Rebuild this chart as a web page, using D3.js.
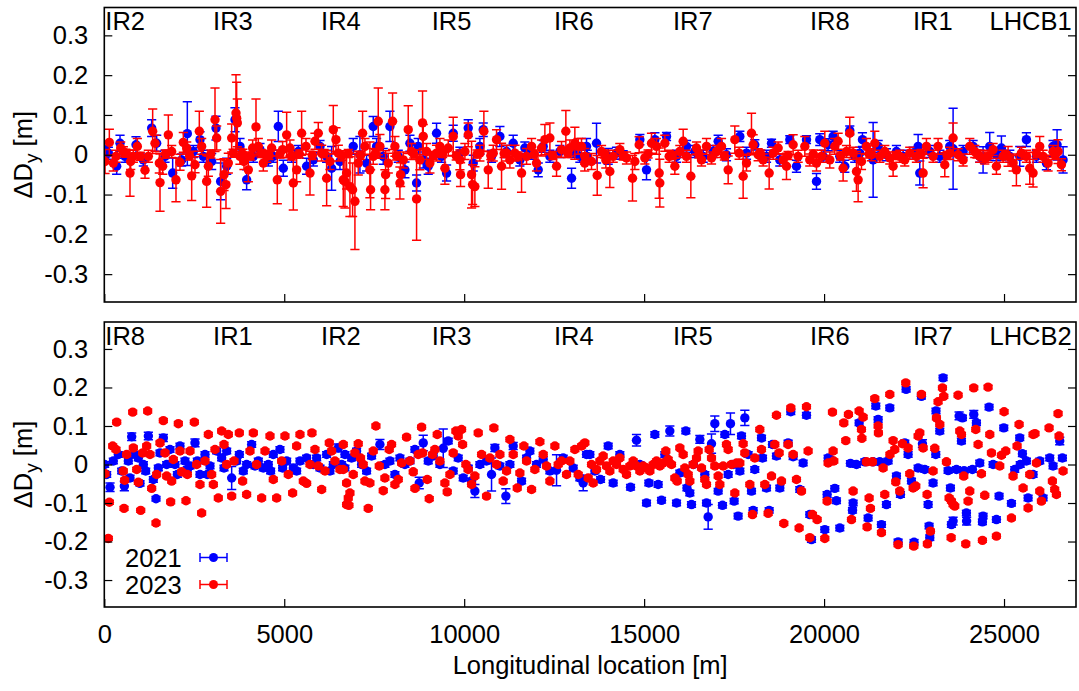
<!DOCTYPE html>
<html>
<head>
<meta charset="utf-8">
<script src="https://cdn.jsdelivr.net/npm/d3@7"></script>
<style>
  body { margin: 0; background: #fff; }
  text { font-family: "Liberation Sans", Arial, Helvetica, sans-serif; fill: #000; }
</style>
</head>
<body>
<svg id="chart" width="1079" height="691"></svg>
<script>
// Tick values and labels
const xTicks = [0, 5000, 10000, 15000, 20000, 25000];
const yTicks = [-0.3, -0.2, -0.1, 0, 0.1, 0.2, 0.3];
const years = ['2021', '2023'];
const colors = ['#0000ff', '#ff0000'];

// IR labels along the top of each panel (location in m)
const labelLoc = [0, 3575, 6575, 9650, 13047, 16353, 20158, 23019, 26880];
const beam1Labels = ['IR2', 'IR3', 'IR4', 'IR5', 'IR6', 'IR7', 'IR8', 'IR1', 'LHCB1'];
const beam2Labels = ['IR8', 'IR1', 'IR2', 'IR3', 'IR4', 'IR5', 'IR6', 'IR7', 'LHCB2'];

// [location m, delta Dy m, error m]
const b1_2021 = [
[10,0.013,0.02],[113,0.004,0.015],[344,-0.029,0.02],[437,0.029,0.02],[576,-0.004,0.015],[881,0.025,0.02],[1085,-0.013,0.015],[1316,0.067,0.021],[1455,0.029,0.02],[1687,-0.004,0.015],[1900,-0.046,0.038],[2150,-0.013,0.015],[2307,0.053,0.08],[2474,0.008,0.015],[2659,0.038,0.02],[2752,-0.004,0.015],[2983,-0.017,0.02],[3104,0.067,0.03],[3233,-0.067,0.046],[3400,-0.029,0.02],[3631,0.088,0.03],[3770,0.021,0.02],[3955,-0.063,0.025],[4141,-0.004,0.015],[4326,0.013,0.015],[4557,-0.013,0.015],[4696,-0.004,0.015],[4835,0.071,0.038],[4974,-0.034,0.02],[5206,-0.004,0.015],[5391,0.008,0.015],[5622,-0.029,0.02],[5808,-0.013,0.015],[5993,0.021,0.015],[6178,-0.004,0.015],[6317,-0.034,0.055],[6548,-0.017,0.02],
[6917,0.021,0.02],[7103,0,0.046],[7288,-0.021,0.02],[7473,0.071,0.025],[7566,0.021,0.02],[7751,-0.004,0.02],[7936,0.071,0.038],[8168,-0.004,0.015],[8353,-0.038,0.02],[8492,0.029,0.02],[8677,-0.071,0.02],[8723,0.021,0.02],[8862,-0.013,0.02],[9001,-0.029,0.02],[9232,0.054,0.025],[9371,-0.004,0.015],[9510,-0.046,0.02],[9695,0.054,0.02],[9881,0.004,0.015],[10112,0.067,0.021],[10251,-0.021,0.02],[10436,0.021,0.02],[10529,0.063,0.017],[10760,-0.004,0.015],[10992,0.046,0.025],[11177,0.008,0.015],[11362,0.029,0.02],[11547,-0.013,0.015],[11686,0.017,0.015],[11872,0.004,0.015],[12057,-0.038,0.017],[12196,0.021,0.015],[12381,-0.004,0.015],[12659,0.008,0.015],[12983,-0.059,0.025],[13029,0.008,0.015],[13214,-0.004,0.015],[13399,0.021,0.02],
[13420,-0.004,0.015],[13677,0.029,0.05],[14001,-0.004,0.02],[14233,0.004,0.015],[14418,0,0.01],[14881,0.038,0.013],[15066,-0.038,0.025],[15298,0.038,0.017],[15622,0.046,0.01],[15900,-0.004,0.015],[16177,0.021,0.015],[16409,0.008,0.015],[16640,-0.004,0.015],[16918,0.008,0.015],[17057,0.034,0.015],[17288,0,0.015],[17659,0.046,0.013],[17844,0.004,0.015],[18075,0.025,0.013],[18400,-0.004,0.015],[18539,0.029,0.01],[18770,-0.013,0.015],[19048,0.038,0.01],[19233,-0.029,0.015],[19511,0.038,0.01],[19789,-0.067,0.02],[19881,0.038,0.015],
[19974,-0.004,0.015],[20113,0.025,0.015],[20251,0.046,0.013],[20437,-0.004,0.015],[20576,-0.029,0.015],[20714,0.061,0.011],[20853,-0.004,0.015],[20992,0.004,0.015],[21066,0.038,0.017],[21363,-0.013,0.094],[21502,0.021,0.015],[21733,0,0.015],[22011,0.008,0.015],[22196,-0.004,0.015],[22474,0.004,0.015],[22613,0.021,0.03],[22659,-0.046,0.03],[22937,0.008,0.015],[23215,-0.004,0.015],[23492,0.021,0.015],[23585,0.015,0.102],[23863,0.008,0.015],[24141,0.021,0.015],[24326,-0.004,0.015],[24418,-0.013,0.033],[24603,0.021,0.035],[24789,0,0.015],[24928,0.017,0.03],[25159,-0.004,0.015],[25437,-0.004,0.025],[25622,0.038,0.017],[25900,-0.004,0.015],[26178,-0.021,0.017],[26363,0.021,0.015],[26474,0.025,0.038],[26641,-0.013,0.033]
];

const b1_2023 = [
[20,-0.017,0.03],[140,0.031,0.033],[251,-0.021,0.02],[325,-0.004,0.015],[455,0.017,0.015],[529,0.008,0.012],[600,0.004,0.01],[714,-0.046,0.058],[733,-0.017,0.02],[807,-0.004,0.015],[918,0.021,0.02],[1000,-0.004,0.01],[1131,-0.039,0.02],[1224,-0.004,0.015],[1344,0.059,0.056],[1409,0.029,0.02],[1529,-0.021,0.025],[1548,-0.07,0.072],[1622,-0.029,0.02],[1700,0.002,0.01],[1779,0.05,0.05],[1872,0.008,0.015],[1992,-0.063,0.055],[2103,-0.019,0.02],[2196,0.031,0.025],[2289,0.017,0.015],[2370,-0.003,0.01],[2428,-0.053,0.062],[2520,-0.025,0.02],[2640,0.059,0.05],[2705,0.021,0.02],[2844,-0.067,0.065],[2891,-0.029,0.025],[2960,0.002,0.01],[3076,0.088,0.08],[3122,0.042,0.03],[3233,-0.092,0.08],[3326,-0.05,0.04],[3381,-0.075,0.06],[3446,-0.021,0.025],[3539,0.042,0.035],[3580,0.004,0.01],[3659,0.105,0.096],[3678,0.092,0.09],[3696,0.08,0.06],[3770,-0.004,0.02],[3850,0.002,0.012],[3881,-0.017,0.02],[4002,-0.038,0.03],[4060,-0.003,0.01],[4122,0.017,0.02],[4215,0.07,0.07],[4280,0.021,0.02],[4360,0.003,0.01],[4418,-0.021,0.02],[4511,-0.004,0.015],[4580,-0.002,0.01],[4650,0.017,0.02],[4807,-0.063,0.06],[4880,0.002,0.01],[4955,0.013,0.02],[5067,0.05,0.057],[5159,0.017,0.02],[5200,-0.003,0.01],[5252,-0.071,0.068],[5344,-0.038,0.03],[5420,0.002,0.01],[5483,0.054,0.055],[5604,0.021,0.02],[5715,-0.046,0.055],[5780,-0.002,0.01],[5854,0.034,0.02],[5946,0.054,0.027],[6039,0.004,0.02],[6110,0.003,0.01],[6178,-0.059,0.069],[6270,-0.017,0.02],[6363,0.063,0.061],[6437,0.038,0.03],[6502,0.004,0.02],[6600,-0.002,0.012],[6687,-0.067,0.067],
[6640,-0.063,0.067],[6732,-0.046,0.04],[6780,0.003,0.01],[6825,-0.08,0.075],[6899,-0.088,0.067],[6964,-0.117,0.121],[7056,-0.021,0.03],[7120,-0.002,0.01],[7177,0.054,0.055],[7242,0.021,0.02],[7380,-0.038,0.07],[7399,-0.088,0.05],[7473,-0.004,0.02],[7530,0.003,0.01],[7612,0.084,0.084],[7658,0.021,0.03],[7797,-0.088,0.05],[7816,-0.05,0.06],[7890,-0.021,0.025],[8010,0.084,0.071],[8075,0.021,0.025],[8120,-0.003,0.01],[8214,-0.071,0.04],[8232,-0.05,0.03],[8306,-0.013,0.02],[8445,0.063,0.06],[8538,0.008,0.02],[8600,0.002,0.01],[8677,-0.111,0.104],[8769,-0.013,0.025],[8843,0.08,0.08],[8862,0.046,0.03],[8955,0.008,0.02],[9047,-0.021,0.025],[9140,-0.002,0.01],[9232,0.004,0.02],[9325,0.021,0.02],[9400,0.003,0.01],[9464,-0.034,0.04],[9557,0.017,0.02],[9695,0.046,0.048],[9780,-0.003,0.01],[9881,-0.013,0.025],[9899,-0.05,0.03],[10020,0.008,0.02],[10112,0.05,0.03],[10205,-0.05,0.084],[10233,-0.075,0.05],[10297,-0.08,0.05],[10360,0.002,0.01],[10436,0.004,0.02],[10547,0.059,0.05],[10668,-0.038,0.046],[10740,-0.002,0.01],[10807,0.004,0.02],[10899,0.038,0.025],[11038,-0.029,0.058],[11110,0.003,0.01],[11177,0.004,0.02],[11270,-0.013,0.02],[11409,0.004,0.02],[11500,-0.003,0.01],[11594,-0.046,0.048],[11733,-0.004,0.02],[11872,0.021,0.02],[11950,0.002,0.01],[12010,-0.021,0.02],[12149,0.017,0.02],[12242,0.038,0.038],[12381,0.042,0.038],[12460,-0.002,0.01],[12566,-0.029,0.025],[12705,0.013,0.02],[12825,0.059,0.052],[12880,0.003,0.01],[12936,0.017,0.02],[13075,0.029,0.04],[13168,0.021,0.02],[13260,0.021,0.02],[13353,-0.004,0.02],
[13350,-0.021,0.02],[13538,-0.017,0.02],[13696,-0.052,0.05],[13816,0.008,0.015],[13900,0.002,0.01],[13936,-0.013,0.02],[14047,-0.042,0.04],[14140,-0.004,0.015],[14325,0.013,0.015],[14420,-0.003,0.01],[14510,-0.008,0.015],[14677,-0.059,0.057],[14742,-0.017,0.02],[14862,0.025,0.02],[15020,-0.008,0.015],[15110,0.002,0.01],[15205,0.029,0.025],[15344,0.021,0.02],[15418,-0.046,0.063],[15436,-0.071,0.06],[15575,0.029,0.02],[15696,-0.004,0.015],[15780,-0.002,0.01],[15853,-0.029,0.02],[15992,0.008,0.015],[16085,0.034,0.03],[16177,-0.004,0.015],[16298,-0.054,0.054],[16455,0.017,0.015],[16520,0.002,0.01],[16594,-0.013,0.015],[16733,0.021,0.02],[16872,-0.008,0.015],[17011,0.008,0.015],[17150,0.021,0.02],[17230,-0.003,0.01],[17335,-0.038,0.035],[17520,0.038,0.034],[17640,0.004,0.015],[17751,-0.054,0.055],[17844,-0.021,0.02],[17983,0.054,0.05],[18029,0.025,0.025],[18168,0,0.015],[18240,0.002,0.01],[18307,-0.013,0.015],[18474,-0.046,0.04],[18585,0.004,0.015],[18724,0.017,0.015],[18863,-0.013,0.015],[18955,-0.029,0.033],[19000,-0.002,0.01],[19140,0.025,0.025],[19279,-0.004,0.015],[19465,0.021,0.025],[19603,-0.013,0.015],[19700,0.002,0.01],[19789,-0.021,0.02],[20020,0.029,0.03],
[19927,-0.004,0.015],[20159,-0.013,0.02],[20298,0.021,0.02],[20390,0.034,0.02],[20460,-0.003,0.01],[20529,-0.034,0.032],[20622,0.008,0.015],[20714,0.054,0.04],[20807,0.004,0.015],[20900,-0.042,0.05],[20946,-0.063,0.055],[21039,-0.017,0.02],[21177,0.021,0.02],[21250,0.002,0.01],[21316,0,0.015],[21409,0.029,0.03],[21548,-0.004,0.015],[21687,0.008,0.015],[21826,-0.008,0.015],[21918,-0.029,0.025],[22000,-0.002,0.01],[22103,-0.004,0.015],[22242,-0.013,0.015],[22381,0.004,0.015],[22566,-0.004,0.015],[22700,0.003,0.01],[22752,-0.046,0.037],[22844,0.021,0.02],[23029,-0.004,0.015],[23168,0.021,0.02],[23354,-0.025,0.03],[23420,-0.002,0.01],[23492,0.004,0.015],[23585,0.042,0.038],[23724,0,0.015],[23863,-0.013,0.015],[24048,0.021,0.02],[24187,0.008,0.015],[24250,0.002,0.01],[24326,-0.004,0.015],[24465,-0.008,0.015],[24557,-0.004,0.015],[24696,0.013,0.015],[24789,-0.029,0.02],[24974,-0.004,0.015],[25050,-0.002,0.01],[25113,-0.004,0.025],[25252,-0.021,0.02],[25344,-0.038,0.04],[25483,0.004,0.015],[25622,-0.004,0.015],[25715,-0.034,0.04],[25807,-0.046,0.035],[25900,0.003,0.01],[25992,0.021,0.025],[26085,-0.004,0.015],[26224,-0.021,0.02],[26363,0.008,0.015],[26420,-0.002,0.01],[26502,0.008,0.03],[26595,-0.025,0.015]
];

const b2_2021 = [
[10,0,0.007],[66,-0.026,0.007],[159,-0.059,0.011],[251,0.009,0.007],[390,0.026,0.007],[483,-0.017,0.007],[557,-0.056,0.012],[668,0.009,0.007],[714,-0.035,0.007],[761,0.072,0.01],[853,0.026,0.007],[946,0.017,0.007],[992,-0.049,0.007],[1085,0,0.007],[1150,-0.017,0.007],[1224,0.074,0.01],[1363,-0.039,0.007],[1437,-0.089,0.006],[1501,-0.009,0.007],[1548,0.03,0.007],[1640,0.069,0.009],[1733,0,0.007],[1826,0.039,0.007],[1964,0,0.007],[2030,-0.026,0.007],[2103,0.048,0.007],[2242,0.009,0.007],[2307,-0.013,0.007],[2381,-0.004,0.007],[2520,0.056,0.01],[2585,0.009,0.007],[2659,-0.026,0.007],[2798,0.026,0.007],[2863,-0.026,0.007],[2937,-0.004,0.007],[3122,0.035,0.007],[3261,0.017,0.007],[3326,-0.009,0.007],[3400,0.035,0.007],[3539,-0.035,0.03],[3678,0.009,0.007],[3752,0.026,0.007],[3863,-0.017,0.007],[3955,0,0.007],[4094,0.052,0.007],[4187,-0.004,0.007],[4280,0.009,0.007],[4418,-0.009,0.007],[4557,0,0.007],[4622,-0.017,0.007],[4696,0.026,0.007],[4881,0.039,0.007],[4955,-0.009,0.007],[5067,0.009,0.007],[5252,-0.009,0.007],[5344,-0.017,0.007],[5437,0.009,0.007],[5622,0.017,0.007],[5808,0,0.007],[5900,0.017,0.007],[5993,-0.009,0.007],[6178,0.026,0.007],[6270,-0.017,0.007],[6363,0,0.007],[6502,0.043,0.01],[6595,0,0.007],[6687,0.026,0.007],
[6686,-0.009,0.007],[6871,0.017,0.007],[7010,0.035,0.007],[7149,0,0.007],[7288,-0.017,0.007],[7427,0.022,0.007],[7658,0.052,0.013],[7797,0,0.007],[7936,0.009,0.007],[8075,-0.026,0.007],[8214,0.017,0.007],[8353,0,0.007],[8492,0.009,0.007],[8631,0.039,0.007],[8751,-0.048,0.015],[8862,0.056,0.02],[9001,0.009,0.007],[9140,0.022,0.007],[9325,0,0.007],[9418,0.042,0.05],[9557,0.061,0.007],[9695,-0.017,0.007],[9834,0.017,0.007],[9973,-0.035,0.007],[10112,-0.009,0.007],[10205,-0.043,0.007],[10297,-0.069,0.017],[10436,0,0.007],[10621,0.009,0.007],[10760,-0.026,0.043],[10853,0.043,0.009],[10992,-0.004,0.007],[11158,-0.082,0.019],[11270,0,0.007],[11362,0.048,0.009],[11594,-0.043,0.007],[11733,0.017,0.007],[11825,0.035,0.007],[12010,0,0.007],[12196,0.013,0.007],[12381,-0.017,0.007],[12566,-0.015,0.04],[12751,0.017,0.007],[13029,-0.009,0.007],[13214,-0.035,0.007],[13399,0.026,0.007],
[13307,-0.048,0.02],[13492,0.026,0.007],[13631,-0.017,0.007],[13788,-0.039,0.007],[14001,0.048,0.007],[14140,-0.048,0.007],[14325,0.026,0.007],[14622,-0.059,0.007],[14788,0.063,0.015],[14881,0,0.007],[15066,-0.1,0.007],[15131,-0.048,0.007],[15298,0.078,0.007],[15390,-0.052,0.007],[15483,-0.093,0.007],[15575,0.026,0.007],[15714,0.087,0.013],[15900,-0.1,0.007],[15992,-0.022,0.007],[16159,0.087,0.007],[16190,-0.061,0.007],[16270,-0.074,0.007],[16316,-0.104,0.007],[16370,0,0.007],[16548,0.065,0.01],[16686,-0.026,0.007],[16733,-0.1,0.007],[16779,-0.136,0.032],[16872,0.054,0.025],[16964,0.106,0.02],[17057,-0.069,0.007],[17177,-0.106,0.007],[17242,0.078,0.007],[17335,-0.026,0.007],[17399,0.106,0.028],[17473,0,0.007],[17501,-0.095,0.007],[17612,-0.134,0.007],[17660,-0.017,0.007],[17705,0.074,0.007],[17798,0.121,0.02],[17890,0.026,0.007],[17983,-0.069,0.007],[18029,-0.119,0.007],[18075,-0.013,0.007],[18261,0.069,0.007],[18289,0.017,0.007],[18400,-0.061,0.007],[18474,-0.119,0.007],[18566,0.052,0.007],[18677,0.022,0.007],[18770,-0.061,0.007],[19001,0.056,0.007],[19075,0.137,0.007],[19140,0.02,0.007],[19325,-0.065,0.007],[19418,0.004,0.007],[19511,0.128,0.007],[19603,-0.13,0.007],[19650,-0.195,0.007],[20020,-0.169,0.007],[20085,-0.078,0.007],[20113,0.017,0.007],
[20159,0.013,0.007],[20298,-0.062,0.007],[20344,-0.094,0.007],[20437,-0.165,0.007],[20733,0.003,0.007],[20790,-0.119,0.007],[20807,-0.1,0.007],[20900,0,0.007],[20974,0.108,0.007],[21131,0.007,0.007],[21224,-0.139,0.007],[21363,0.007,0.007],[21437,0.152,0.007],[21502,0.117,0.007],[21548,0.007,0.007],[21594,-0.156,0.007],[21733,-0.104,0.007],[21779,0.009,0.007],[21826,0.147,0.007],[22011,-0.03,0.007],[22057,-0.201,0.007],[22122,-0.078,0.007],[22242,0.056,0.007],[22280,0.195,0.007],[22335,0.026,0.007],[22428,-0.043,0.007],[22500,-0.202,0.007],[22613,-0.009,0.007],[22705,0.177,0.007],[22733,0.054,0.01],[22798,-0.013,0.007],[22891,-0.104,0.007],[22918,-0.16,0.007],[22937,-0.19,0.007],[23029,-0.048,0.007],[23104,0.026,0.007],[23110,0.139,0.007],[23215,0.087,0.007],[23307,0.225,0.007],[23446,-0.016,0.007],[23511,-0.061,0.007],[23539,-0.156,0.007],[23585,-0.147,0.01],[23678,-0.013,0.007],[23752,0.126,0.01],[23817,0.061,0.007],[23844,0.121,0.007],[23890,-0.016,0.007],[23955,-0.126,0.007],[23960,-0.147,0.01],[24122,-0.013,0.007],[24159,0.13,0.01],[24233,0.108,0.007],[24326,0.004,0.007],[24400,-0.149,0.007],[24418,-0.134,0.007],[24585,0.149,0.007],[24696,0,0.007],[24789,-0.143,0.007],[24863,-0.082,0.007],[24993,0.095,0.007],[25206,-0.101,0.007],[25298,-0.013,0.007],[25437,0.069,0.007],[25450,0,0.007],[25511,0.028,0.007],[25622,0.009,0.007],[25669,-0.087,0.007],[25807,-0.026,0.007],[25993,0.009,0.007],[26085,-0.087,0.007],[26270,0.017,0.007],[26363,-0.004,0.007],[26548,0.061,0.01],[26622,0.017,0.007]
];

const b2_2023 = [
[20,-0.024,0.005],[112,-0.192,0.005],[140,-0.098,0.005],[233,0.048,0.005],[325,0.039,0.005],[344,0.11,0.005],[529,-0.017,0.005],[548,-0.114,0.005],[566,-0.041,0.005],[622,0.026,0.005],[789,0.136,0.005],[807,0.043,0.005],[900,-0.013,0.005],[946,-0.046,0.005],[1011,-0.119,0.005],[1066,0.03,0.005],[1177,0.048,0.005],[1205,0.139,0.005],[1270,0.026,0.005],[1316,-0.062,0.005],[1437,-0.152,0.005],[1455,-0.026,0.005],[1548,0.056,0.005],[1640,0.114,0.005],[1687,0.03,0.005],[1733,-0.03,0.005],[1844,-0.097,0.005],[1872,-0.043,0.005],[1918,0.013,0.005],[2057,0.106,0.005],[2103,0.035,0.005],[2150,-0.019,0.005],[2270,-0.094,0.005],[2307,-0.026,0.005],[2381,0.035,0.005],[2502,0.11,0.005],[2566,0,0.005],[2659,-0.052,0.005],[2705,-0.126,0.005],[2798,0.009,0.005],[2891,0.078,0.005],[2983,-0.026,0.005],[3030,-0.052,0.005],[3076,0.039,0.005],[3168,-0.087,0.005],[3261,0.087,0.005],[3326,0.052,0.005],[3400,0,0.005],[3446,0.078,0.005],[3539,-0.082,0.005],[3604,0.009,0.005],[3752,0.082,0.005],[3844,-0.043,0.005],[3955,-0.078,0.005],[4048,0.035,0.005],[4141,0.082,0.005],[4233,0,0.005],[4372,-0.087,0.005],[4465,0.035,0.005],[4604,0.074,0.005],[4696,-0.039,0.005],[4789,-0.087,0.005],[4928,0.009,0.005],[5020,0.074,0.005],[5113,-0.026,0.005],[5233,-0.074,0.005],[5344,0.048,0.005],[5437,0.078,0.005],[5530,-0.043,0.005],[5622,-0.049,0.005],[5715,0,0.005],[5770,0.082,0.005],[5854,0.039,0.005],[5946,-0.004,0.005],[6039,-0.065,0.005],[6132,-0.017,0.005],[6252,0.056,0.005],[6317,0.035,0.005],[6409,0.009,0.005],[6548,-0.013,0.005],[6641,0.052,0.005],[6733,-0.104,0.005],
[6640,-0.013,0.005],[6732,-0.048,0.005],[6779,-0.087,0.005],[6797,-0.106,0.005],[6825,-0.074,0.005],[6917,-0.026,0.005],[6964,0.03,0.005],[7056,0.054,0.005],[7121,0.017,0.005],[7195,0,0.005],[7242,-0.043,0.005],[7334,-0.114,0.005],[7380,-0.048,0.005],[7473,0.035,0.005],[7547,0.1,0.005],[7640,-0.004,0.005],[7751,-0.068,0.005],[7797,-0.035,0.005],[7917,0.039,0.005],[7982,0.052,0.005],[8075,-0.052,0.005],[8168,-0.039,0.005],[8260,0.004,0.005],[8399,0.071,0.005],[8492,0.009,0.005],[8584,-0.019,0.005],[8631,-0.062,0.005],[8723,0.026,0.005],[8816,0.097,0.005],[8844,0.03,0.005],[8973,-0.039,0.005],[9029,-0.089,0.005],[9121,0.026,0.005],[9186,0.039,0.005],[9251,0.078,0.005],[9325,0.009,0.005],[9464,-0.048,0.005],[9529,-0.071,0.005],[9603,-0.026,0.005],[9695,0.03,0.005],[9769,0.087,0.005],[9834,0.074,0.005],[9927,0.091,0.005],[9955,0.052,0.005],[10047,0,0.005],[10112,-0.013,0.005],[10205,-0.052,0.005],[10297,-0.03,0.005],[10390,0.082,0.005],[10483,0.026,0.005],[10621,-0.082,0.005],[10714,0.017,0.005],[10825,0.095,0.005],[10899,0,0.005],[10992,0.026,0.005],[11084,-0.043,0.005],[11177,-0.017,0.005],[11270,0.065,0.005],[11362,0.026,0.005],[11474,-0.061,0.005],[11547,-0.022,0.005],[11659,0.048,0.005],[11733,0.009,0.005],[11872,-0.065,0.005],[11964,-0.013,0.005],[12103,0.059,0.005],[12196,0.026,0.005],[12288,-0.004,0.005],[12381,-0.043,0.005],[12520,0.048,0.005],[12612,0,0.005],[12705,0.009,0.005],[12844,-0.026,0.005],[12936,0.009,0.005],[13075,0.039,0.005],[13168,-0.026,0.005],[13260,0.048,0.005],[13353,0.056,0.005],
[13446,-0.035,0.005],[13538,0,0.005],[13584,-0.048,0.005],[13677,-0.013,0.005],[13770,0.009,0.005],[13862,0.022,0.005],[13955,-0.004,0.005],[14047,-0.017,0.005],[14140,0.009,0.005],[14233,0,0.005],[14325,0.017,0.005],[14418,-0.013,0.005],[14510,-0.026,0.005],[14603,-0.004,0.005],[14696,0.009,0.005],[14788,-0.004,0.005],[14881,-0.017,0.005],[14973,-0.004,0.005],[15066,-0.009,0.005],[15159,-0.017,0.005],[15251,0,0.005],[15344,0.009,0.005],[15436,-0.004,0.005],[15529,0.004,0.005],[15603,0.035,0.005],[15668,0.013,0.005],[15761,0,0.005],[15853,-0.035,0.005],[15918,-0.043,0.005],[15992,0.043,0.005],[16085,0.026,0.005],[16131,-0.009,0.005],[16224,-0.026,0.005],[16270,-0.043,0.005],[16362,0,0.005],[16455,0.017,0.005],[16501,0.035,0.005],[16594,-0.009,0.005],[16686,-0.039,0.005],[16733,-0.052,0.005],[16807,0.039,0.005],[16872,0.017,0.005],[16964,-0.004,0.005],[17057,-0.03,0.005],[17103,-0.052,0.005],[17196,-0.004,0.005],[17288,0.052,0.005],[17335,0.039,0.005],[17427,0,0.005],[17520,-0.074,0.005],[17570,0.004,0.005],[17659,0.004,0.005],[17751,0.054,0.005],[17798,0.03,0.005],[17937,-0.052,0.005],[18011,-0.13,0.005],[18075,0.017,0.005],[18214,0.091,0.005],[18261,0.039,0.005],[18353,-0.052,0.005],[18446,-0.127,0.005],[18539,-0.03,0.005],[18631,0.052,0.005],[18677,0.128,0.005],[18751,0.03,0.005],[18816,-0.043,0.005],[18881,-0.153,0.005],[19001,0.052,0.005],[19075,0.147,0.005],[19140,0.026,0.005],[19233,-0.039,0.005],[19307,-0.165,0.005],[19372,-0.069,0.005],[19511,0.15,0.005],[19557,0.035,0.005],[19603,-0.19,0.005],[19677,-0.13,0.005],[19807,-0.143,0.005],[20020,-0.192,0.005],[20085,-0.095,0.005],[20113,0.004,0.005],
[20233,0.136,0.005],[20251,0.035,0.005],[20270,0.009,0.005],[20548,0.108,0.005],[20603,0.062,0.005],[20677,0.13,0.005],[20761,-0.143,0.005],[20807,-0.069,0.005],[20974,0.139,0.005],[21039,0.091,0.005],[21050,0.068,0.005],[21085,0.123,0.005],[21177,0.007,0.005],[21196,-0.162,0.005],[21252,-0.087,0.005],[21288,-0.114,0.005],[21344,0.007,0.005],[21409,0.171,0.005],[21502,0.1,0.005],[21510,0.082,0.005],[21594,-0.177,0.005],[21640,-0.009,0.005],[21687,-0.078,0.005],[21826,0.182,0.005],[21830,0.026,0.005],[21918,0.062,0.005],[21964,0.039,0.005],[21992,-0.045,0.005],[22057,-0.208,0.005],[22103,-0.069,0.005],[22177,0.054,0.005],[22270,0.212,0.005],[22335,0.043,0.005],[22381,-0.024,0.005],[22474,-0.061,0.005],[22492,-0.212,0.005],[22548,-0.056,0.005],[22613,0.074,0.005],[22659,0.082,0.005],[22705,0.182,0.005],[22752,0.043,0.005],[22863,-0.078,0.005],[22870,-0.206,0.005],[22955,-0.173,0.005],[23029,-0.017,0.005],[23076,0.042,0.005],[23122,0.121,0.005],[23168,0.163,0.005],[23215,0.104,0.005],[23289,0.199,0.005],[23326,0.177,0.005],[23400,0.007,0.005],[23474,-0.087,0.005],[23530,-0.19,0.005],[23539,-0.095,0.005],[23585,-0.104,0.005],[23631,-0.108,0.005],[23724,0.18,0.005],[23770,0.087,0.005],[23817,0.078,0.005],[23881,-0.03,0.005],[23937,-0.206,0.005],[24002,-0.095,0.005],[24048,-0.069,0.005],[24159,0.199,0.005],[24215,0.091,0.005],[24280,0.052,0.005],[24372,-0.024,0.005],[24400,-0.197,0.005],[24465,-0.08,0.005],[24557,0.201,0.005],[24604,0.078,0.005],[24650,0.03,0.005],[24789,-0.186,0.005],[24881,-0.004,0.005],[24928,0.024,0.005],[25002,0.137,0.005],[25048,0.035,0.005],[25206,-0.139,0.005],[25252,-0.03,0.005],[25363,0.048,0.005],[25419,0.104,0.005],[25530,-0.061,0.005],[25669,-0.113,0.005],[25715,-0.026,0.005],[25807,0.078,0.005],[25860,0.08,0.005],[25900,0.004,0.005],[25993,-0.069,0.005],[26039,-0.095,0.005],[26252,0.095,0.005],[26344,-0.043,0.005],[26409,-0.065,0.005],[26456,-0.078,0.005],[26502,0.132,0.005],[26530,0.074,0.005],[26641,-0.017,0.005]
];

const FONT = 25.5;
const svg = d3.select('#chart');
svg.append('rect').attr('width', 1079).attr('height', 691).attr('fill', '#fff');

const x = d3.scaleLinear().domain([0, 27000]).range([104.3, 1076]);

const panels = [
  { top: 7.5, bottom: 302, labels: beam1Labels, series: [b1_2021, b1_2023], xLabels: false },
  { top: 322, bottom: 607, labels: beam2Labels, series: [b2_2021, b2_2023], xLabels: true }
];

const fmtY = (d) => (Math.abs(d) < 1e-9 ? '0' : d.toFixed(1));

panels.forEach((p, pi) => {
  const y = d3.scaleLinear().domain([-0.37, 0.37]).range([p.bottom, p.top]);
  const g = svg.append('g');

  g.append('clipPath').attr('id', 'clip' + pi)
    .append('rect')
    .attr('x', x.range()[0]).attr('y', p.top)
    .attr('width', x.range()[1] - x.range()[0]).attr('height', p.bottom - p.top);

  const plot = g.append('g').attr('clip-path', `url(#clip${pi})`);

  // error bars + points, 2021 first then 2023 on top
  p.series.forEach((data, si) => {
    const col = colors[si];
    const pts = plot.append('g')
      .selectAll('g')
      .data(data)
      .join('g')
      .attr('stroke', col)
      .attr('stroke-width', 1.5)
      .attr('fill', col);
    pts.append('line')
      .attr('x1', (d) => x(d[0])).attr('x2', (d) => x(d[0]))
      .attr('y1', (d) => y(d[1] - d[2])).attr('y2', (d) => y(d[1] + d[2]));
    pts.append('line')
      .attr('x1', (d) => x(d[0]) - 4.6).attr('x2', (d) => x(d[0]) + 4.6)
      .attr('y1', (d) => y(d[1] - d[2])).attr('y2', (d) => y(d[1] - d[2]));
    pts.append('line')
      .attr('x1', (d) => x(d[0]) - 4.6).attr('x2', (d) => x(d[0]) + 4.6)
      .attr('y1', (d) => y(d[1] + d[2])).attr('y2', (d) => y(d[1] + d[2]));
    pts.append('circle')
      .attr('cx', (d) => x(d[0])).attr('cy', (d) => y(d[1]))
      .attr('r', 4.7).attr('stroke', 'none');
  });

  // axes (inward ticks)
  const yl = g.append('g').attr('transform', `translate(${x.range()[0]},0)`)
    .call(d3.axisLeft(y).tickValues(yTicks).tickSizeInner(-8).tickSizeOuter(0).tickPadding(16).tickFormat(fmtY));
  const yr = g.append('g').attr('transform', `translate(${x.range()[1]},0)`)
    .call(d3.axisRight(y).tickValues(yTicks).tickSizeInner(-8).tickSizeOuter(0).tickFormat(''));
  const xb = g.append('g').attr('transform', `translate(0,${p.bottom})`)
    .call(d3.axisBottom(x).tickValues(xTicks).tickSizeInner(-8).tickSizeOuter(0).tickPadding(18)
      .tickFormat(p.xLabels ? d3.format('d') : ''));
  [yl, yr, xb].forEach((a) => {
    a.select('.domain').remove();
    a.attr('font-size', FONT).attr('font-family', null);
    a.selectAll('line').attr('stroke', '#000').attr('stroke-width', 1.2);
  });

  // frame
  g.append('rect')
    .attr('x', x.range()[0]).attr('y', p.top)
    .attr('width', x.range()[1] - x.range()[0]).attr('height', p.bottom - p.top)
    .attr('fill', 'none').attr('stroke', '#000').attr('stroke-width', 1.6);

  // IR labels
  g.selectAll('text.ir')
    .data(p.labels)
    .join('text')
    .attr('class', 'ir')
    .attr('x', (d, i) => (i === 0 ? x(labelLoc[i]) + 1 : x(labelLoc[i])))
    .attr('y', p.top + 22.5)
    .attr('font-size', FONT)
    .attr('text-anchor', (d, i) => (i === 0 ? 'start' : i === p.labels.length - 1 ? 'end' : 'middle'))
    .text((d) => d);

  // y axis title
  const yt = g.append('text')
    .attr('transform', `translate(31.5,${(p.top + p.bottom) / 2}) rotate(-90)`)
    .attr('text-anchor', 'middle')
    .attr('font-size', FONT);
  yt.append('tspan').text('\u0394D');
  yt.append('tspan').attr('font-size', 19).attr('dy', 6).text('y');
  yt.append('tspan').attr('dy', -6).text(' [m]');
});

// x axis title
svg.append('text')
  .attr('x', (x.range()[0] + x.range()[1]) / 2)
  .attr('y', 674)
  .attr('text-anchor', 'middle')
  .attr('font-size', FONT)
  .text('Longitudinal location [m]');

// legend
const legend = svg.append('g');
years.forEach((yr, i) => {
  const cy = 557.5 + i * 27;
  const lg = legend.append('g');
  lg.append('text').attr('x', 125).attr('y', cy + 9.3).attr('font-size', FONT).text(yr);
  lg.append('line').attr('x1', 200).attr('x2', 227).attr('y1', cy).attr('y2', cy)
    .attr('stroke', colors[i]).attr('stroke-width', 1.5);
  [200, 227].forEach((cx) => {
    lg.append('line').attr('x1', cx).attr('x2', cx).attr('y1', cy - 4.5).attr('y2', cy + 4.5)
      .attr('stroke', colors[i]).attr('stroke-width', 1.5);
  });
  lg.append('circle').attr('cx', 213.5).attr('cy', cy).attr('r', 4.5).attr('fill', colors[i]);
});
</script>
</body>
</html>
